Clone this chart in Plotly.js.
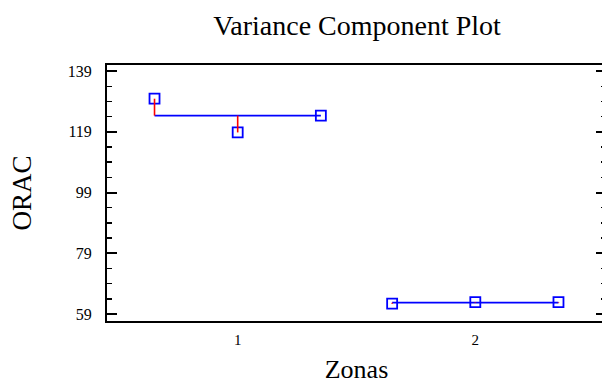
<!DOCTYPE html>
<html>
<head>
<meta charset="utf-8">
<script src="https://cdn.plot.ly/plotly-3.0.1.min.js"></script>
<style>
html,body{margin:0;padding:0;overflow:hidden;background:#fff;}
#chart{width:606px;height:385px;}
</style>
</head>
<body>
<div id="chart"></div>
<script>
// Data
var zones = [1, 2];
var zoneLabels = ['1', '2'];
var zona1 = [129.9, 118.8, 124.3];
var zona2 = [62.4, 62.9, 62.9];
var groups = [zona1, zona2];
var offsets = [-0.35, 0, 0.35];
var yTicks = [59, 79, 99, 119, 139];

var lineX = [], lineY = [], resX = [], resY = [], ptX = [], ptY = [];
groups.forEach(function (vals, gi) {
  var mean = vals.reduce(function (a, b) { return a + b; }, 0) / vals.length;
  var xs = offsets.map(function (o) { return zones[gi] + o; });
  lineX.push(xs[0], xs[xs.length - 1], null);
  lineY.push(mean, mean, null);
  vals.forEach(function (v, i) {
    resX.push(xs[i], xs[i], null);
    resY.push(mean, v, null);
    ptX.push(xs[i]);
    ptY.push(v);
  });
});

var traces = [
  {x: lineX, y: lineY, mode: 'lines', type: 'scatter', line: {color: '#0000ff', width: 1.8}, hoverinfo: 'skip'},
  {x: ptX, y: ptY, mode: 'markers', type: 'scatter',
   marker: {symbol: 'square-open', size: 10, color: '#0000ff', line: {width: 1.8, color: '#0000ff'}}},
  {x: resX, y: resY, mode: 'lines', type: 'scatter', line: {color: '#ff0000', width: 1.6}, hoverinfo: 'skip'}
];

var serif = 'Liberation Serif, Times New Roman, serif';
var layout = {
  width: 606, height: 385,
  margin: {l: 107, r: 0, t: 65, b: 64},
  paper_bgcolor: '#fff', plot_bgcolor: '#fff',
  showlegend: false,
  font: {family: serif, color: '#000'},
  title: {text: 'Variance Component Plot', font: {family: serif, size: 28, color: '#000'},
          x: 357 / 606, xanchor: 'center', xref: 'container', y: 1 - 25 / 385, yanchor: 'middle', yref: 'container'},
  xaxis: {
    range: [0.45, 2.55], tickmode: 'array', tickvals: zones, ticktext: zoneLabels,
    ticks: '', showgrid: false, zeroline: false,
    showline: true, linecolor: '#000', linewidth: 2, mirror: true,
    tickfont: {family: serif, size: 15, color: '#000'}, ticklabelstandoff: 4,
    title: {text: 'Zonas', font: {family: serif, size: 26, color: '#000'}, standoff: 13}
  },
  yaxis: {
    range: [56.7, 141], tickmode: 'array', tickvals: yTicks, ticktext: yTicks.map(String),
    ticks: 'inside', ticklen: 10, tickwidth: 2, tickcolor: '#000',
    minor: {dtick: 5, tick0: 59, ticks: 'inside', ticklen: 5, tickwidth: 1.5, tickcolor: '#000', showgrid: false},
    showgrid: false, zeroline: false,
    showline: true, linecolor: '#000', linewidth: 2, mirror: 'allticks',
    tickfont: {family: serif, size: 16, color: '#000'}, ticklabelstandoff: 10,
    title: {text: 'ORAC', font: {family: serif, size: 27, color: '#000'}, standoff: 28}
  }
};

Plotly.newPlot('chart', traces, layout, {displayModeBar: false, staticPlot: true});
</script>
</body>
</html>
